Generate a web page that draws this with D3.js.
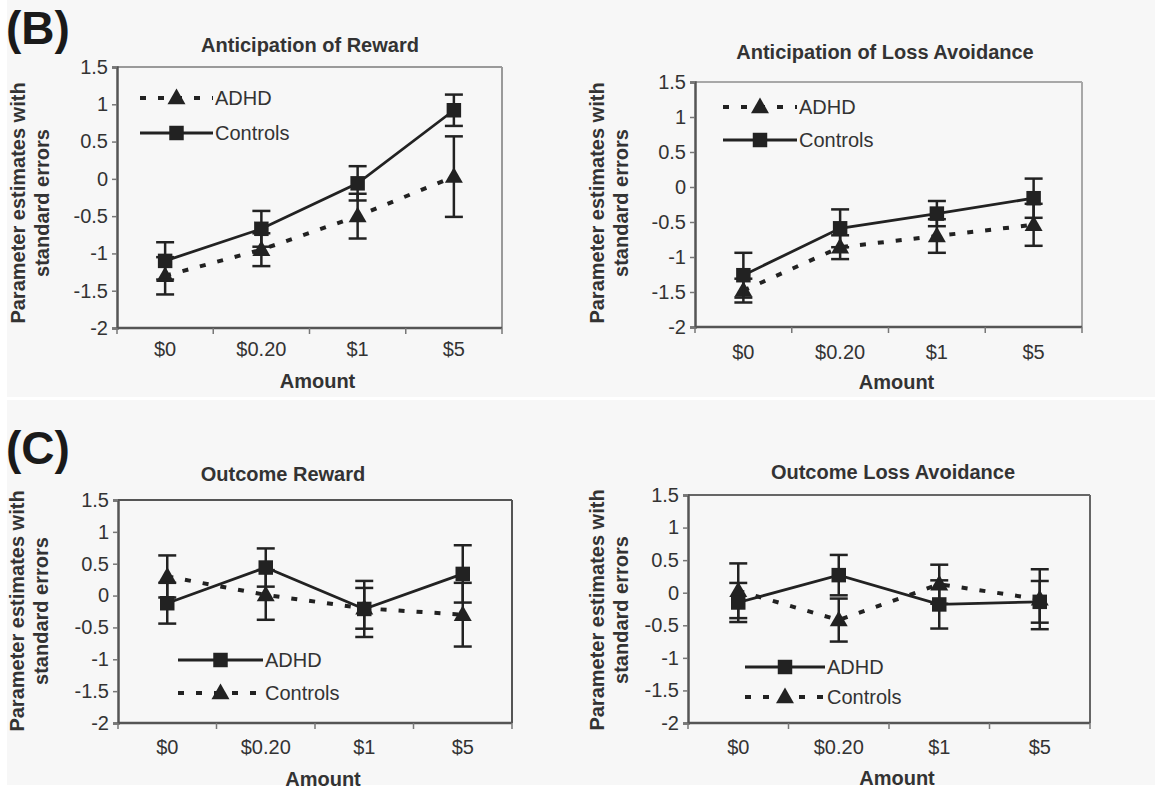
<!DOCTYPE html>
<html>
<head>
<meta charset="utf-8">
<script src="https://cdn.jsdelivr.net/npm/d3@7"></script>
<style>
  html, body { margin: 0; padding: 0; background: #ffffff; }
  svg { display: block; }
  text { font-family: "Liberation Sans", Arial, sans-serif; }
</style>
</head>
<body>
<svg id="chart" width="1155" height="793"></svg>
<script>
// ---------- data ----------
const categories = ["$0", "$0.20", "$1", "$5"];
const yTickValues = [1.5, 1, 0.5, 0, -0.5, -1, -1.5, -2];
const yTickLabels = ["1.5", "1", "0.5", "0", "-0.5", "-1", "-1.5", "-2"];

// (B) Anticipation of Reward
const antRewardADHD     = [-1.30, -0.95, -0.50, 0.03];
const antRewardADHDErr  = [0.25, 0.22, 0.30, 0.54];
const antRewardCtrl     = [-1.10, -0.67, -0.06, 0.92];
const antRewardCtrlErr  = [0.25, 0.24, 0.23, 0.21];

// (B) Anticipation of Loss Avoidance
const antLossADHD       = [-1.48, -0.86, -0.70, -0.54];
const antLossADHDErr    = [0.17, 0.17, 0.24, 0.30];
const antLossCtrl       = [-1.26, -0.59, -0.38, -0.16];
const antLossCtrlErr    = [0.32, 0.27, 0.18, 0.28];

// (C) Outcome Reward
const outRewardADHD     = [-0.12, 0.44, -0.21, 0.34];
const outRewardADHDErr  = [0.32, 0.30, 0.44, 0.45];
const outRewardCtrl     = [0.30, 0.01, -0.20, -0.30];
const outRewardCtrlErr  = [0.33, 0.39, 0.32, 0.50];

// (C) Outcome Loss Avoidance
const outLossADHD       = [-0.15, 0.27, -0.18, -0.14];
const outLossADHDErr    = [0.30, 0.31, 0.37, 0.32];
const outLossCtrl       = [0.03, -0.42, 0.13, -0.10];
const outLossCtrlErr    = [0.42, 0.33, 0.30, 0.46];

// ---------- layout ----------
const svg = d3.select("#chart");
const bg = "#f7f7f7";
svg.append("rect").attr("x", 7).attr("y", 0).attr("width", 1148).attr("height", 397).attr("fill", bg);
svg.append("rect").attr("x", 7).attr("y", 400).attr("width", 1148).attr("height", 385).attr("fill", bg);

svg.append("text").attr("x", 6).attr("y", 44).attr("font-size", 46).attr("font-weight", "bold")
  .attr("fill", "#1a1a1a").text("(B)");
svg.append("text").attr("x", 6).attr("y", 464).attr("font-size", 46).attr("font-weight", "bold")
  .attr("fill", "#1a1a1a").text("(C)");

const panels = [
  { title: "Anticipation of Reward", left: 117, right: 502, top: 67, bottom: 328,
    titleX: 310, titleY: 52, xLabY: 356, amountY: 388, yLabX: 18, yLabY: 203, frame: "#9a9a9a",
    dashed: { name: "ADHD", v: antRewardADHD, e: antRewardADHDErr, shape: "tri" },
    solid:  { name: "Controls", v: antRewardCtrl, e: antRewardCtrlErr, shape: "sq" },
    legend: { x0: 140, x1: 213, y1: 98, y2: 133, first: "dashed" } },
  { title: "Anticipation of Loss Avoidance", left: 695, right: 1082, top: 82, bottom: 327,
    titleX: 885, titleY: 59, xLabY: 359, amountY: 389, yLabX: 597, yLabY: 203, frame: "#a8a8a8",
    dashed: { name: "ADHD", v: antLossADHD, e: antLossADHDErr, shape: "tri" },
    solid:  { name: "Controls", v: antLossCtrl, e: antLossCtrlErr, shape: "sq" },
    legend: { x0: 723, x1: 797, y1: 107, y2: 140, first: "dashed" } },
  { title: "Outcome Reward", left: 118, right: 512, top: 500, bottom: 723,
    titleX: 283, titleY: 481, xLabY: 754, amountY: 786, yLabX: 17, yLabY: 611, frame: "#555",
    dashed: { name: "Controls", v: outRewardCtrl, e: outRewardCtrlErr, shape: "tri" },
    solid:  { name: "ADHD", v: outRewardADHD, e: outRewardADHDErr, shape: "sq" },
    legend: { x0: 178, x1: 263, y1: 660, y2: 693, first: "solid" } },
  { title: "Outcome Loss Avoidance", left: 688, right: 1090, top: 495, bottom: 723,
    titleX: 893, titleY: 479, xLabY: 754, amountY: 785, yLabX: 597, yLabY: 610, frame: "#666",
    dashed: { name: "Controls", v: outLossCtrl, e: outLossCtrlErr, shape: "tri" },
    solid:  { name: "ADHD", v: outLossADHD, e: outLossADHDErr, shape: "sq" },
    legend: { x0: 745, x1: 825, y1: 667, y2: 697, first: "solid" } }
];

const ink = "#222";
const dashPattern = "6,12";
const sqSym = d3.symbol().type(d3.symbolSquare).size(210);
const triSym = d3.symbol().type(d3.symbolTriangle).size(140);

function marker(g, shape, x, y) {
  g.append("path").attr("d", shape === "sq" ? sqSym() : triSym())
    .attr("transform", `translate(${x},${y + (shape === "tri" ? 1 : 0)})`)
    .attr("fill", ink);
}

panels.forEach(p => {
  const g = svg.append("g");
  const x = d3.scaleBand().domain(categories).range([p.left, p.right]);
  const y = d3.scaleLinear().domain([-2, 1.5]).range([p.bottom, p.top]);
  const cx = c => x(c) + x.bandwidth() / 2;

  // frame (top/right)
  g.append("line").attr("x1", p.left).attr("x2", p.right).attr("y1", p.top).attr("y2", p.top)
    .attr("stroke", p.frame).attr("stroke-width", 2);
  g.append("line").attr("x1", p.right).attr("x2", p.right).attr("y1", p.top).attr("y2", p.bottom)
    .attr("stroke", p.frame).attr("stroke-width", 2);

  // y axis
  const yAxis = d3.axisLeft(y).tickValues(yTickValues)
    .tickFormat((d, i) => yTickLabels[i]).tickSize(5).tickPadding(4);
  const ya = g.append("g").attr("transform", `translate(${p.left},0)`).call(yAxis);
  ya.select(".domain").attr("stroke", "#555").attr("stroke-width", 2.5);
  ya.selectAll(".tick line").attr("stroke", "#777").attr("stroke-width", 1.5);
  ya.selectAll(".tick text").attr("font-size", 20).attr("fill", "#333")
    .attr("font-family", "Liberation Sans, Arial, sans-serif");

  // x axis (ticks between categories, Excel-style)
  g.append("line").attr("x1", p.left).attr("x2", p.right).attr("y1", p.bottom).attr("y2", p.bottom)
    .attr("stroke", "#555").attr("stroke-width", 2.5);
  const boundaries = categories.map(c => x(c)).concat([p.right]);
  g.selectAll(".xt").data(boundaries).enter().append("line")
    .attr("x1", d => d).attr("x2", d => d).attr("y1", p.bottom).attr("y2", p.bottom + 6)
    .attr("stroke", "#777").attr("stroke-width", 1.5);
  g.selectAll(".xl").data(categories).enter().append("text")
    .attr("x", d => cx(d)).attr("y", p.xLabY).attr("text-anchor", "middle")
    .attr("font-size", 20).attr("fill", "#333").text(d => d);

  // titles
  g.append("text").attr("x", p.titleX).attr("y", p.titleY).attr("text-anchor", "middle")
    .attr("font-size", 20).attr("font-weight", "bold").attr("fill", "#333").text(p.title);
  g.append("text").attr("x", (p.left + p.right) / 2 + 8).attr("y", p.amountY).attr("text-anchor", "middle")
    .attr("font-size", 20).attr("font-weight", "bold").attr("fill", "#333").text("Amount");
  const yl = g.append("text").attr("transform", `translate(${p.yLabX + 7},${p.yLabY}) rotate(-90)`)
    .attr("text-anchor", "middle").attr("font-size", 20).attr("font-weight", "bold").attr("fill", "#333");
  yl.append("tspan").attr("x", 0).attr("dy", 0).text("Parameter estimates with");
  yl.append("tspan").attr("x", 0).attr("dy", 24).text("standard errors");

  // series
  function drawSeries(s, dashed) {
    const pts = categories.map((c, i) => ({ c, v: s.v[i], e: s.e[i] }));
    const line = d3.line().x(d => cx(d.c)).y(d => y(d.v));
    g.append("path").datum(pts).attr("d", line).attr("fill", "none")
      .attr("stroke", ink).attr("stroke-width", dashed ? 4 : 2.8)
      .attr("stroke-dasharray", dashed ? dashPattern : null);
    const eb = g.append("g");
    pts.forEach(d => {
      const xx = cx(d.c);
      eb.append("line").attr("x1", xx).attr("x2", xx).attr("y1", y(d.v + d.e)).attr("y2", y(d.v - d.e))
        .attr("stroke", ink).attr("stroke-width", 2.5);
      [d.v + d.e, d.v - d.e].forEach(val => {
        eb.append("line").attr("x1", xx - 9).attr("x2", xx + 9).attr("y1", y(val)).attr("y2", y(val))
          .attr("stroke", ink).attr("stroke-width", 2.5);
      });
    });
    pts.forEach(d => marker(g, s.shape, cx(d.c), y(d.v)));
  }
  drawSeries(p.dashed, true);
  drawSeries(p.solid, false);

  // legend
  const L = p.legend;
  const rows = L.first === "dashed" ? [[p.dashed, true], [p.solid, false]] : [[p.solid, false], [p.dashed, true]];
  rows.forEach(([s, dashed], i) => {
    const ly = i === 0 ? L.y1 : L.y2;
    g.append("line").attr("x1", L.x0).attr("x2", L.x1).attr("y1", ly).attr("y2", ly)
      .attr("stroke", ink).attr("stroke-width", dashed ? 4 : 2.8)
      .attr("stroke-dasharray", dashed ? dashPattern : null);
    marker(g, s.shape, (L.x0 + L.x1) / 2, ly);
    g.append("text").attr("x", L.x1 + 2).attr("y", ly + 7).attr("font-size", 20)
      .attr("fill", "#333").text(s.name);
  });
});
</script>
</body>
</html>
